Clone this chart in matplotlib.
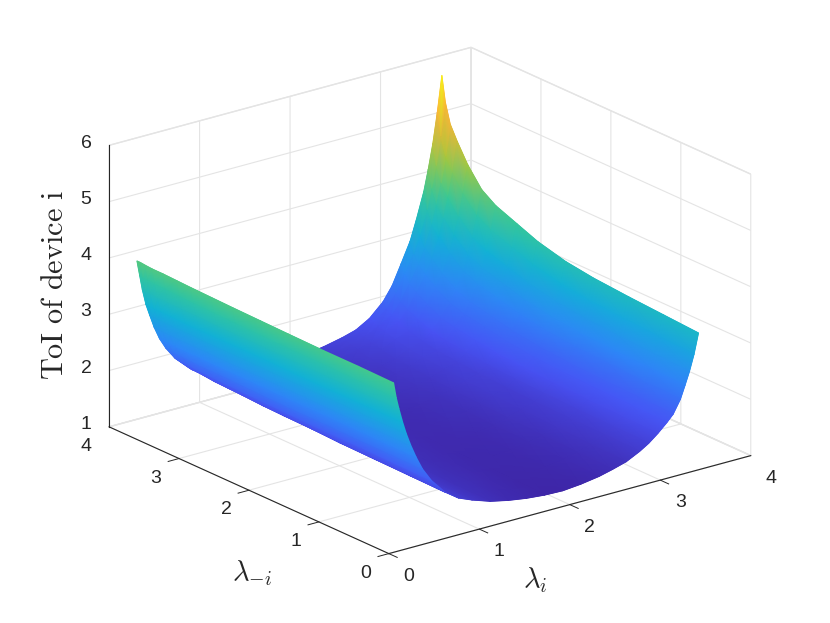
#!/usr/bin/env python3

import matplotlib
matplotlib.use("Agg")
import numpy as np
import matplotlib.pyplot as plt
from matplotlib.colors import LinearSegmentedColormap, Normalize
from matplotlib.collections import TriMesh
from matplotlib.tri import Triangulation
from mpl_toolkits.mplot3d import proj3d

# lambda_i samples
lam_i = [0.13, 0.16, 0.19, 0.23, 0.27, 0.32, 0.38, 0.45, 0.55, 0.7, 0.85, 1.0, 1.2, 1.4, 1.6,
         1.8, 2.0, 2.2, 2.4, 2.55, 2.7, 2.85, 2.95, 3.05, 3.15, 3.22, 3.3, 3.35, 3.4, 3.45, 3.5]
# lambda_-i samples
lam_other = [0.1, 0.6, 1.1, 1.6, 2.0, 2.4, 2.7, 3.0, 3.2, 3.4, 3.55, 3.65, 3.72, 3.77]

# ToI, one row per lambda_-i
toi = [
    [3.92, 3.64, 3.43, 3.18, 2.96, 2.73, 2.49, 2.25, 2.00, 1.73, 1.56, 1.46, 1.35, 1.28, 1.23, 1.20, 1.19, 1.22, 1.27, 1.33, 1.40, 1.52, 1.62, 1.75, 1.90, 2.02, 2.25, 2.47, 2.70, 2.98, 3.34],
    [3.93, 3.65, 3.43, 3.18, 2.96, 2.73, 2.49, 2.26, 2.01, 1.74, 1.57, 1.47, 1.36, 1.30, 1.25, 1.22, 1.21, 1.24, 1.29, 1.35, 1.42, 1.53, 1.63, 1.76, 1.92, 2.04, 2.27, 2.50, 2.73, 3.01, 3.38],
    [3.93, 3.66, 3.44, 3.18, 2.97, 2.73, 2.50, 2.26, 2.02, 1.75, 1.59, 1.49, 1.38, 1.31, 1.27, 1.23, 1.23, 1.26, 1.31, 1.37, 1.45, 1.54, 1.64, 1.78, 1.93, 2.06, 2.30, 2.52, 2.76, 3.05, 3.42],
    [3.94, 3.66, 3.44, 3.18, 2.97, 2.74, 2.50, 2.27, 2.02, 1.76, 1.60, 1.50, 1.40, 1.33, 1.29, 1.25, 1.25, 1.28, 1.33, 1.40, 1.48, 1.55, 1.66, 1.80, 1.96, 2.09, 2.33, 2.56, 2.80, 3.09, 3.47],
    [3.95, 3.67, 3.45, 3.19, 2.97, 2.74, 2.50, 2.27, 2.03, 1.78, 1.61, 1.52, 1.41, 1.35, 1.31, 1.27, 1.27, 1.30, 1.35, 1.42, 1.50, 1.57, 1.68, 1.83, 1.99, 2.13, 2.38, 2.61, 2.86, 3.16, 3.54],
    [3.96, 3.68, 3.45, 3.19, 2.98, 2.74, 2.51, 2.28, 2.04, 1.79, 1.63, 1.53, 1.43, 1.37, 1.34, 1.29, 1.29, 1.33, 1.39, 1.45, 1.54, 1.60, 1.71, 1.87, 2.05, 2.20, 2.46, 2.70, 2.96, 3.27, 3.67],
    [3.97, 3.69, 3.45, 3.19, 2.98, 2.74, 2.51, 2.29, 2.05, 1.80, 1.65, 1.55, 1.45, 1.39, 1.36, 1.31, 1.32, 1.36, 1.41, 1.48, 1.57, 1.63, 1.76, 1.93, 2.12, 2.29, 2.56, 2.81, 3.08, 3.41, 3.82],
    [3.98, 3.70, 3.46, 3.19, 2.98, 2.75, 2.51, 2.30, 2.06, 1.82, 1.66, 1.57, 1.47, 1.41, 1.39, 1.34, 1.35, 1.39, 1.45, 1.51, 1.61, 1.67, 1.80, 1.99, 2.19, 2.37, 2.66, 2.92, 3.20, 3.54, 3.97],
    [3.99, 3.71, 3.46, 3.19, 2.99, 2.75, 2.52, 2.30, 2.07, 1.83, 1.68, 1.58, 1.49, 1.43, 1.41, 1.36, 1.38, 1.42, 1.48, 1.54, 1.65, 1.71, 1.85, 2.05, 2.27, 2.47, 2.77, 3.04, 3.33, 3.70, 4.14],
    [4.00, 3.72, 3.47, 3.20, 2.99, 2.75, 2.52, 2.31, 2.08, 1.84, 1.70, 1.60, 1.51, 1.45, 1.43, 1.39, 1.41, 1.46, 1.52, 1.58, 1.70, 1.79, 1.95, 2.18, 2.42, 2.65, 2.98, 3.27, 3.59, 3.99, 4.47],
    [4.00, 3.73, 3.47, 3.20, 2.99, 2.76, 2.52, 2.32, 2.09, 1.86, 1.71, 1.62, 1.53, 1.47, 1.46, 1.43, 1.46, 1.50, 1.57, 1.63, 1.76, 1.86, 2.04, 2.30, 2.57, 2.83, 3.19, 3.50, 3.85, 4.28, 4.80],
    [4.01, 3.74, 3.48, 3.20, 3.00, 2.76, 2.53, 2.32, 2.10, 1.87, 1.72, 1.63, 1.54, 1.49, 1.47, 1.45, 1.49, 1.53, 1.60, 1.67, 1.79, 1.92, 2.12, 2.40, 2.69, 2.97, 3.35, 3.68, 4.05, 4.50, 5.05],
    [4.02, 3.74, 3.48, 3.20, 3.00, 2.76, 2.53, 2.33, 2.10, 1.87, 1.73, 1.64, 1.55, 1.50, 1.49, 1.48, 1.51, 1.56, 1.63, 1.70, 1.83, 2.00, 2.22, 2.53, 2.85, 3.17, 3.58, 3.94, 4.32, 4.82, 5.40],
    [4.02, 3.75, 3.48, 3.20, 3.00, 2.76, 2.53, 2.33, 2.11, 1.88, 1.74, 1.65, 1.56, 1.51, 1.50, 1.51, 1.55, 1.60, 1.67, 1.74, 1.88, 2.11, 2.35, 2.70, 3.06, 3.42, 3.87, 4.25, 4.68, 5.22, 5.85],
]

axis_ticks = [0, 1, 2, 3, 4]
z_ticks = [1, 2, 3, 4, 5, 6]

# parula-like anchors, orange held a bit longer near the top
parula = LinearSegmentedColormap.from_list("parula", [
    (0.0, (0.2422, 0.1504, 0.6603)), (1 / 7, (0.2810, 0.3228, 0.9579)), (2 / 7, (0.1786, 0.5289, 0.9682)),
    (3 / 7, (0.0689, 0.6948, 0.8394)), (4 / 7, (0.2161, 0.7843, 0.5923)), (5 / 7, (0.6720, 0.7793, 0.2227)),
    (6 / 7, (1.0000, 0.7000, 0.2200)), (0.94, (0.9900, 0.7200, 0.2000)), (1.0, (0.9769, 0.9839, 0.0805))], N=256)

plt.rcParams['font.family'] = ['Liberation Sans', 'DejaVu Sans']
plt.rcParams['mathtext.fontset'] = 'cm'
grid_col = '#e4e4e4'
axis_col = '#262626'
tick_len = 0.12

fig = plt.figure(figsize=(8.3, 6.23), dpi=100)
ax = fig.add_axes([110 / 830, 2.6 / 623, 623 / 830, 1], projection='3d', proj_type='ortho')
ax.view_init(elev=20.5, azim=232.3)
ax.set_box_aspect((1, 1, 0.657), zoom=1.1115)

X, Y = np.meshgrid(lam_i, lam_other)
Z = np.array(toi)
norm = Normalize(1.19, 5.85)

# flat facets underneath give an antialiased outline
mean_z = (Z[:-1, :-1] + Z[1:, :-1] + Z[:-1, 1:] + Z[1:, 1:]) / 4
ax.plot_surface(X, Y, Z, facecolors=parula(norm(mean_z)), rstride=1, cstride=1,
                linewidth=0.4, antialiased=True, shade=False)

# ticks, MATLAB style, drawn along the neighbouring axis
for t in axis_ticks:
    ax.plot([t, t], [0, -tick_len], [1, 1], color=axis_col, lw=0.7)
    ax.plot([0, -tick_len], [t, t], [1, 1], color=axis_col, lw=0.7)
for t in z_ticks:
    ax.plot([0, 0], [4, 4 + tick_len], [t, t], color=axis_col, lw=0.7)

ax.set_xlim(0, 4)
ax.set_ylim(0, 4)
ax.set_zlim(1, 6)
ax.set_xticks(axis_ticks)
ax.set_yticks(axis_ticks)
ax.set_zticks(z_ticks)

for axis in (ax.xaxis, ax.yaxis, ax.zaxis):
    axis.set_ticklabels([])
    axis.set_pane_color((1, 1, 1, 1))
    axis.pane.set_edgecolor(grid_col)
    axis.line.set_color(axis_col)
    axis.line.set_linewidth(0.8)
    axis._axinfo['grid'].update(color=grid_col, linewidth=0.8)
    axis._axinfo['tick'].update(inward_factor=0.0, outward_factor=0.0)

proj = ax.get_proj()


def tick_label(x, y, z, value):
    # plain 2D text at the projected spot
    tx, ty, _ = proj3d.proj_transform(x, y, z, proj)
    ax.text2D(tx, ty, str(value), transform=ax.transData, fontsize=14, color=axis_col,
              ha='center', va='center')


for t in axis_ticks:
    tick_label(t, -0.286, 0.76, t)
    tick_label(-0.254, t, 0.76, t)
for t in z_ticks:
    tick_label(0, 4.33, t - 0.145, t)

# smooth colours: same table, projected, gouraud triangles sorted back to front
px, py, pz = proj3d.proj_transform(X.ravel(), Y.ravel(), Z.ravel(), proj)
n_row, n_col = Z.shape
idx = np.arange(n_row * n_col).reshape(n_row, n_col)
a, b, c, d = idx[:-1, :-1].ravel(), idx[:-1, 1:].ravel(), idx[1:, 1:].ravel(), idx[1:, :-1].ravel()
tris = np.vstack([np.column_stack([a, b, c]), np.column_stack([a, c, d])])
tris = tris[np.argsort(-pz[tris].mean(axis=1))]
mesh = TriMesh(Triangulation(px, py, tris), cmap=parula, norm=norm)
mesh.set_array(Z.ravel())
mesh.do_3d_projection = lambda: -1e9  # plain 2D collection, drawn last
ax.add_collection(mesh, autolim=False)

fig.text(55 / 830, 1 - 285.5 / 623, r'$\mathrm{ToI\ of\ device\ i}$', rotation=90, fontsize=21.8,
         color=axis_col, ha='center', va='center')
fig.text(252 / 830, 1 - 573 / 623, r'$\lambda_{-i}$', fontsize=20.5, color=axis_col, ha='center', va='center')
fig.text(535 / 830, 1 - 580 / 623, r'$\lambda_{i}$', fontsize=20.5, color=axis_col, ha='center', va='center')

fig.savefig('out.png', dpi=100)
